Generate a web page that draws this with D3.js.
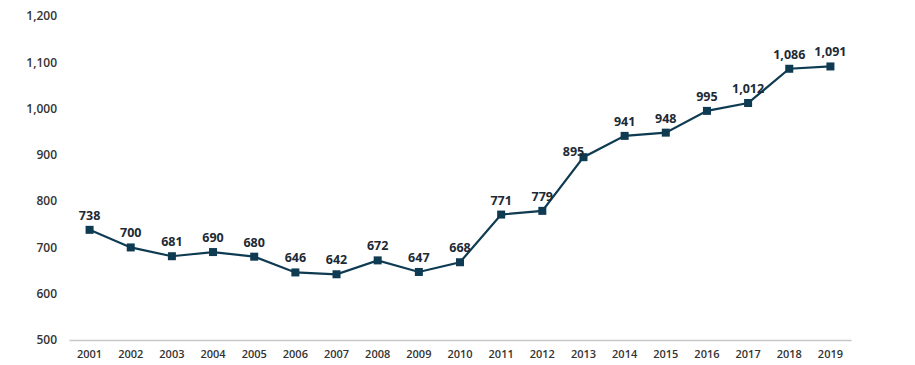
<!DOCTYPE html>
<html>
<head>
  <meta charset="utf-8">
  <script src="https://d3js.org/d3.v7.min.js"></script>
  <style>
    body { margin: 0; background: #fff; }
    text { font-family: "Open Sans", sans-serif; }
  </style>
</head>
<body>
<script>
  "use strict";
  var years = ["2001","2002","2003","2004","2005","2006","2007","2008","2009","2010",
               "2011","2012","2013","2014","2015","2016","2017","2018","2019"];
  var values = [738, 700, 681, 690, 680, 646, 642, 672, 647, 668,
                771, 779, 895, 941, 948, 995, 1012, 1086, 1091];
  var yTicks = [500, 600, 700, 800, 900, 1000, 1100, 1200];

  var width = 915, height = 365;
  var plotLeft = 69, plotRight = 851, plotTop = 16, plotBottom = 340;
  var color = "#0e3a52";

  var svg = d3.select("body").append("svg")
      .attr("width", width)
      .attr("height", height);

  var x = d3.scaleBand().domain(years).range([plotLeft, plotRight]);
  var y = d3.scaleLinear().domain([500, 1200]).range([plotBottom, plotTop]);
  var fmt = d3.format(",");

  // y axis labels
  var yAxis = svg.append("g")
      .attr("transform", "translate(" + (plotLeft - 12) + ",0)")
      .call(d3.axisLeft(y).tickValues(yTicks).tickFormat(fmt).tickSize(0));
  yAxis.select(".domain").remove();
  yAxis.selectAll("text")
      .attr("x", 0)
      .attr("fill", "#333")
      .style("font-size", "12px")
      .style("font-weight", "600");

  // x axis
  var xAxis = svg.append("g")
      .attr("transform", "translate(0," + plotBottom + ")")
      .call(d3.axisBottom(x).tickSize(0).tickSizeOuter(0));
  xAxis.select(".domain").attr("stroke", "#c8c8c8").attr("stroke-width", 1.3);
  xAxis.selectAll("text")
      .attr("y", 10)
      .attr("fill", "#333")
      .style("font-size", "11px")
      .style("font-weight", "600");

  var cx = function(d, i) { return x(years[i]) + x.bandwidth() / 2; };

  var line = d3.line()
      .x(cx)
      .y(function(d) { return y(d); });

  svg.append("path")
      .datum(values)
      .attr("fill", "none")
      .attr("stroke", color)
      .attr("stroke-width", 2.2)
      .attr("d", line);

  svg.selectAll(".pt")
      .data(values)
    .enter().append("rect")
      .attr("class", "pt")
      .attr("x", function(d, i) { return cx(d, i) - 4; })
      .attr("y", function(d) { return y(d) - 4; })
      .attr("width", 8)
      .attr("height", 8)
      .attr("fill", color);

  svg.selectAll(".lbl")
      .data(values)
    .enter().append("text")
      .attr("class", "lbl")
      .attr("x", function(d, i) { return cx(d, i) + (years[i] === "2013" ? -10 : 0); })
      .attr("y", function(d, i) { return y(d) - (years[i] === "2013" ? 1 : 10); })
      .attr("text-anchor", "middle")
      .attr("fill", "#1d2a35")
      .style("font-size", "12.5px")
      .style("font-weight", "700")
      .text(function(d) { return fmt(d); });
</script>
</body>
</html>
